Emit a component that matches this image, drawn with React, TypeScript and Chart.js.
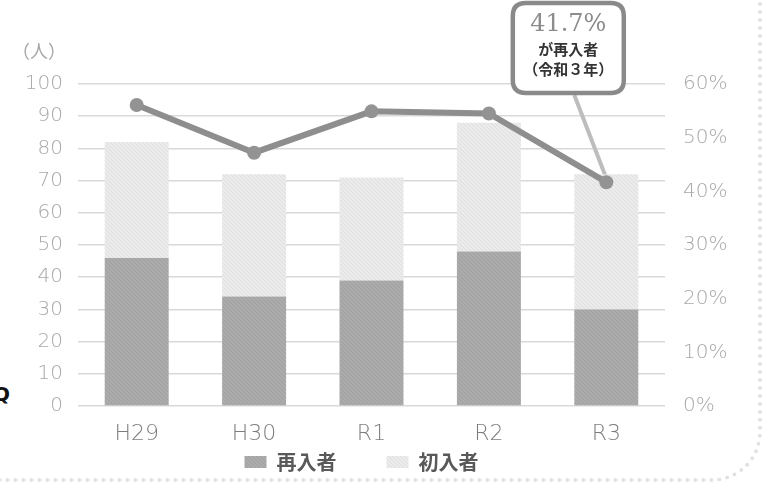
import React, { useEffect, useRef } from "react";
import { Chart, registerables } from "chart.js";

Chart.register(...registerables);

const categories = ["H29", "H30", "R1", "R2", "R3"];
const reentrants = [46, 34, 39, 48, 30];
const firstTimers = [36, 38, 32, 40, 42];
const reentryRate = [56.1, 47.2, 54.9, 54.5, 41.7];
const leftTicks = [0, 10, 20, 30, 40, 50, 60, 70, 80, 90, 100];
const rightTicks = [0, 10, 20, 30, 40, 50, 60];
const calloutLines = ["41.7%", "が再入者", "（令和３年）"];
const unitLabel = "（人）";

const SANS = "'DejaVu Sans', 'Noto Sans', sans-serif";
const CJK = "'Noto Sans CJK JP', 'Noto Sans', sans-serif";

function makePattern(base: string, dot: string, density: number) {
  const c = document.createElement("canvas");
  c.width = 8;
  c.height = 8;
  const g = c.getContext("2d")!;
  g.fillStyle = base;
  g.fillRect(0, 0, 8, 8);
  g.fillStyle = dot;
  for (let y = 0; y < 8; y++) {
    for (let x = 0; x < 8; x++) {
      if ((x * 3 + y * 5) % density === 0) g.fillRect(x, y, 1, 1);
    }
  }
  return g.createPattern(c, "repeat")!;
}

function roundRect(ctx: CanvasRenderingContext2D, x: number, y: number, w: number, h: number, r: number) {
  ctx.beginPath();
  ctx.moveTo(x + r, y);
  ctx.lineTo(x + w - r, y);
  ctx.quadraticCurveTo(x + w, y, x + w, y + r);
  ctx.lineTo(x + w, y + h - r);
  ctx.quadraticCurveTo(x + w, y + h, x + w - r, y + h);
  ctx.lineTo(x + r, y + h);
  ctx.quadraticCurveTo(x, y + h, x, y + h - r);
  ctx.lineTo(x, y + r);
  ctx.quadraticCurveTo(x, y, x + r, y);
  ctx.closePath();
}

const annotationPlugin = {
  id: "annot",
  beforeDatasetsDraw(chart: any) {
    const ctx = chart.ctx as CanvasRenderingContext2D;
    const meta = chart.getDatasetMeta(2);
    const last = meta.data[meta.data.length - 1];
    const area = chart.chartArea;
    const boxCx = last.x - 38;
    const boxBottom = area.top + 11;
    ctx.save();
    ctx.strokeStyle = "#bdbdbd";
    ctx.lineWidth = 4;
    ctx.beginPath();
    ctx.moveTo(boxCx + 6, boxBottom);
    ctx.lineTo(last.x, last.y - 4);
    ctx.stroke();
    ctx.restore();
  },
  afterDatasetsDraw(chart: any) {
    const ctx = chart.ctx as CanvasRenderingContext2D;
    const meta = chart.getDatasetMeta(2);
    const last = meta.data[meta.data.length - 1];
    const area = chart.chartArea;
    const boxCx = last.x - 38;
    const w = 111;
    const h = 90;
    const bx = boxCx - w / 2;
    const by = area.top - 81;
    ctx.save();
    roundRect(ctx, bx, by, w, h, 13);
    ctx.fillStyle = "#ffffff";
    ctx.fill();
    ctx.lineWidth = 4.5;
    ctx.strokeStyle = "#8a8a8a";
    ctx.stroke();
    ctx.textAlign = "center";
    ctx.textBaseline = "middle";
    ctx.fillStyle = "#8c8c8c";
    ctx.font = "24px 'DejaVu Serif', serif";
    ctx.fillText(calloutLines[0], boxCx, by + 22);
    ctx.fillStyle = "#333333";
    ctx.font = "bold 15px " + CJK;
    ctx.fillText(calloutLines[1], boxCx, by + 46);
    ctx.fillText(calloutLines[2], boxCx, by + 66);

    // unit label
    const ys = chart.scales.y;
    ctx.fillStyle = "#a6a6a6";
    ctx.font = "18px " + CJK;
    ctx.textAlign = "right";
    ctx.fillText(unitLabel, ys.right - 12, ys.top - 33);
    ctx.restore();
  },
};

export default function App() {
  const ref = useRef<HTMLCanvasElement | null>(null);
  useEffect(() => {
    const canvas = ref.current!;
    const darkPat = makePattern("#ababab", "#a0a0a0", 4);
    const lightPat = makePattern("#ebebeb", "#dfdfdf", 4);
    const chart = new Chart(canvas, {
      type: "bar",
      data: {
        labels: categories,
        datasets: [
          {
            label: "再入者",
            data: reentrants,
            backgroundColor: darkPat as any,
            stack: "s",
            order: 2,
            barPercentage: 0.545,
            categoryPercentage: 1,
            yAxisID: "y",
          },
          {
            label: "初入者",
            data: firstTimers,
            backgroundColor: lightPat as any,
            stack: "s",
            order: 2,
            barPercentage: 0.545,
            categoryPercentage: 1,
            yAxisID: "y",
          },
          {
            type: "line",
            label: "再入率",
            data: reentryRate,
            borderColor: "#8e8e8e",
            backgroundColor: "#939393",
            borderWidth: 6,
            pointRadius: 7,
            pointBorderWidth: 0,
            pointBackgroundColor: "#939393",
            order: 0,
            yAxisID: "y2",
          } as any,
        ],
      },
      options: {
        animation: false,
        responsive: false,
        maintainAspectRatio: false,
        layout: { padding: { top: 84, bottom: 1, left: 0, right: 0 } },
        plugins: {
          tooltip: { enabled: false },
          legend: {
            position: "bottom",
            labels: {
              boxWidth: 22,
              boxHeight: 12,
              padding: 10,
              color: "#595959",
              font: { family: CJK, size: 20, weight: "bold" },
              generateLabels: (chart: any) =>
                chart.data.datasets
                  .map((ds: any, i: number) => ({ ds, i }))
                  .filter((o: any) => o.i !== 2)
                  .map((o: any) => ({
                    text: o.ds.label + "\u3000\u3000",
                    fillStyle: o.ds.backgroundColor,
                    strokeStyle: "transparent",
                    lineWidth: 0,
                    fontColor: "#595959",
                    datasetIndex: o.i,
                    hidden: false,
                  })),
            },
          },
        },
        scales: {
          x: {
            stacked: true,
            grid: { display: false },
            border: { display: false },
            ticks: {
              color: "#7d7d7d",
              font: { family: SANS, size: 22, weight: "200" },
              padding: 7,
            },
            afterFit: (s: any) => {
              s.height = 36;
            },
          },
          y: {
            stacked: true,
            position: "left",
            min: 0,
            max: 100,
            afterBuildTicks: (s: any) => {
              s.ticks = leftTicks.map((v) => ({ value: v }));
            },
            grid: { color: "#d9d9d9", lineWidth: 1.5, drawTicks: false },
            border: { display: false },
            ticks: {
              color: "#a8a8a8",
              font: { family: SANS, size: 20, weight: "200" },
              padding: 15,
            },
            afterFit: (s: any) => {
              s.width = 78;
            },
          },
          y2: {
            position: "right",
            min: 0,
            max: 60,
            afterBuildTicks: (s: any) => {
              s.ticks = rightTicks.map((v) => ({ value: v }));
            },
            grid: { display: false, drawTicks: false },
            border: { display: false },
            ticks: {
              color: "#a8a8a8",
              font: { family: SANS, size: 20, weight: "200" },
              padding: 18,
              callback: (v: any) => v + "%",
            },
            afterFit: (s: any) => {
              s.width = 98;
            },
          },
        },
      },
      plugins: [annotationPlugin],
    } as any);
    return () => chart.destroy();
  }, []);

  return (
    <div style={{ position: "absolute", left: 0, top: 0, width: 763, height: 483, overflow: "hidden", background: "#fff" }}>
      <div
        style={{
          position: "absolute",
          right: 1,
          bottom: 1,
          width: 800,
          height: 520,
          borderRight: "4px dotted #e2e2e2",
          borderBottom: "4px dotted #e2e2e2",
          borderBottomRightRadius: 50,
          boxSizing: "border-box",
        }}
      />
      <span
        style={{
          position: "absolute",
          left: -7,
          top: 382,
          fontFamily: SANS,
          fontWeight: "bold",
          fontSize: 20,
          color: "#111",
        }}
      >
        Q
      </span>
      <canvas ref={ref} width={763} height={483} style={{ position: "absolute", left: 0, top: 0 }} />
    </div>
  );
}
